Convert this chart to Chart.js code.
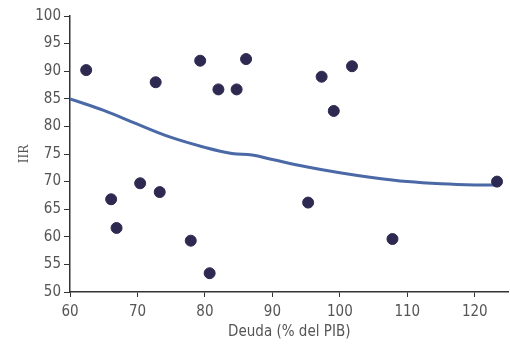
<!DOCTYPE html>
<html>
<head>
<meta charset="utf-8">
<script src="https://cdn.jsdelivr.net/npm/chart.js@4/dist/chart.umd.min.js"></script>
<style>
  html, body { margin: 0; padding: 0; background: #fff; overflow: hidden; }
  canvas { display: block; }
</style>
</head>
<body>
<!-- a few px wider than the window: Chart.js keeps room right of the x axis that we don't want -->
<canvas id="chart" width="515" height="351"></canvas>
<script>
// Deuda (% del PIB) vs IIR, one point per country
const deuda = [62.4, 66.1, 66.9, 70.4, 72.7, 73.3, 77.9, 79.3, 80.7, 82.0, 84.7, 86.1, 95.3, 97.3, 99.1, 101.8, 107.8, 123.3];
const iir = [90.2, 66.8, 61.6, 69.7, 88.0, 68.1, 59.3, 91.9, 53.4, 86.7, 86.7, 92.2, 66.2, 89.0, 82.8, 90.9, 59.6, 70.0];

// fitted trend
const trendX = [60, 65, 70, 75, 80, 84, 87, 90, 95, 100, 105, 110, 115, 120, 123.3];
const trendY = [85.0, 82.9, 80.4, 78.0, 76.2, 75.1, 74.8, 74.0, 72.7, 71.6, 70.7, 70.0, 69.6, 69.4, 69.4];

const xTicks = [60, 70, 80, 90, 100, 110, 120];
const yTicks = [50, 55, 60, 65, 70, 75, 80, 85, 90, 95, 100];

const FONT = "'DejaVu Sans Condensed', 'DejaVu Sans', sans-serif";
const TEXT = "#555";
const AXIS = "#333";

new Chart(document.getElementById("chart"), {
  type: "scatter",
  data: {
    datasets: [
      {
        label: "Tendencia",
        type: "line",
        data: trendX.map((x, i) => ({ x, y: trendY[i] })),
        borderColor: "#4a69a6",
        borderWidth: 3,
        pointRadius: 0,
        tension: 0.4,
        fill: false,
        order: 2,
      },
      {
        label: "Países",
        data: deuda.map((x, i) => ({ x, y: iir[i] })),
        backgroundColor: "#2d2950",
        borderColor: "#2d2950",
        pointRadius: 5.5,
        order: 1,
      },
    ],
  },
  options: {
    responsive: false,
    animation: false,
    layout: { padding: { top: 16, right: 0, left: 0, bottom: 0 } },
    plugins: {
      legend: { display: false },
      tooltip: { enabled: false },
    },
    scales: {
      x: {
        type: "linear",
        min: 60,
        max: 125,
        afterBuildTicks: (s) => { s.ticks = xTicks.map((value) => ({ value })); },
        afterFit: (s) => {
          s.height = 59;
          s.paddingLeft = 0;
          s.paddingRight = 0;
        },
        ticks: {
          autoSkip: false,
          maxRotation: 0,
          color: TEXT,
          font: { family: FONT, size: 15 },
          padding: 6,
        },
        grid: { drawOnChartArea: false, drawTicks: true, tickLength: 5, color: AXIS },
        border: { color: AXIS, width: 1.5 },
        title: {
          display: true,
          text: "Deuda (% del PIB)",
          color: TEXT,
          font: { family: FONT, size: 15 },
          padding: { top: 0, bottom: 10 },
        },
      },
      y: {
        min: 50,
        max: 100,
        afterBuildTicks: (s) => { s.ticks = yTicks.map((value) => ({ value })); },
        afterFit: (s) => { s.width = 70; },
        ticks: {
          autoSkip: false,
          color: TEXT,
          font: { family: FONT, size: 15 },
          padding: 3,
        },
        grid: { drawOnChartArea: false, drawTicks: true, tickLength: 6, color: AXIS },
        border: { color: AXIS, width: 1.5 },
        title: {
          display: true,
          text: "IIR",
          color: TEXT,
          font: { family: "'DejaVu Serif', serif", size: 12 },
          padding: { top: 18, bottom: 0 },
        },
      },
    },
  },
});
</script>
</body>
</html>
